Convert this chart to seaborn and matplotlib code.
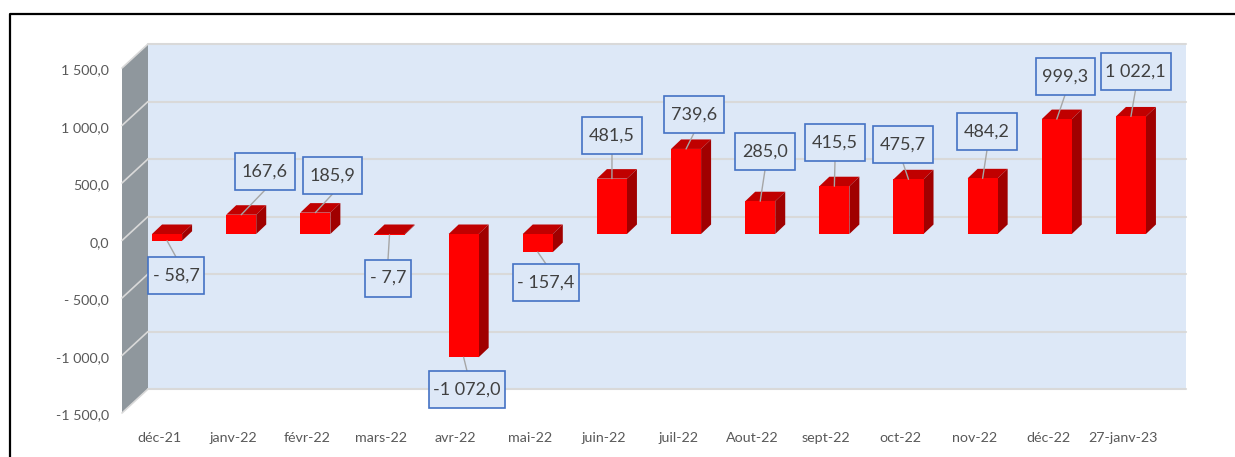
import pandas as pd
import matplotlib
matplotlib.use("Agg")
import matplotlib.pyplot as plt
from matplotlib.lines import Line2D
from matplotlib.patches import Polygon, Rectangle
from matplotlib.transforms import Affine2D
import seaborn as sns

# data
months = ["déc-21", "janv-22", "févr-22", "mars-22", "avr-22", "mai-22", "juin-22",
          "juil-22", "Aout-22", "sept-22", "oct-22", "nov-22", "déc-22", "27-janv-23"]
values = [-58.7, 167.6, 185.9, -7.7, -1072.0, -157.4, 481.5,
          739.6, 285.0, 415.5, 475.7, 484.2, 999.3, 1022.1]
value_labels = ["- 58,7", "167,6", "185,9", "- 7,7", "-1 072,0", "- 157,4", "481,5",
                "739,6", "285,0", "415,5", "475,7", "484,2", "999,3", "1 022,1"]
y_ticks = [-1500, -1000, -500, 0, 500, 1000, 1500]
y_tick_labels = ["-1 500,0", "-1 000,0", "- 500,0", "0,0", "500,0", "1 000,0", "1 500,0"]

# label box layout, image pixels: centre x, centre y, width
boxes = [(176, 275.5, 56), (265, 171.5, 60), (332.5, 175.5, 59), (388, 278, 46),
         (467, 389.5, 76), (546, 282.5, 66), (612, 135.5, 60), (694, 114.5, 60),
         (765, 151.5, 60), (835, 142.5, 60), (903, 144.5, 60), (987, 131.5, 60),
         (1065, 76.5, 59), (1135.5, 71.5, 70)]
box_h = 37

W, H = 1235, 457
sns.set_theme(style="white")
plt.rcParams['font.family'] = ['Lato', 'DejaVu Sans']

fig = plt.figure(figsize=(W / 100, H / 100), dpi=100)
ax = fig.add_axes([122 / W, (H - 413) / H, 1038 / W, 345 / H])

df = pd.DataFrame({"month": months, "value": values})
sns.barplot(data=df, x="month", y="value", order=months, color="#ff0000",
            saturation=1, width=0.405, ax=ax, zorder=3)
ax.set_xlim(-0.5, 13.5)
ax.set_ylim(-1500, 1500)
ax.set_xlabel("")
ax.set_ylabel("")
ax.set_yticks(y_ticks, y_tick_labels)
ax.tick_params(axis="y", length=0, pad=9.5, labelsize=10.3, labelcolor="#595959")
ax.tick_params(axis="x", length=0, pad=13.5, labelsize=10.3, labelcolor="#595959")
for lab in ax.get_yticklabels():
    lab.set_transform(lab.get_transform() + Affine2D().translate(0, -1.5))
sns.despine(ax=ax, left=True, bottom=True)
ax.patch.set_visible(False)

px = Affine2D().scale(1, -1).translate(0, H)  # image pixels to display
back = ax.transData + Affine2D().translate(26, 24)
front = ax.transData + Affine2D().translate(8, 6.5)
depth = (10, 9.5)

# walls and grid
ax.add_patch(Rectangle((-0.5, -1500), 14, 3000, transform=back, facecolor="#dde8f7",
                       edgecolor="none", zorder=0, clip_on=False))
side = [ax.transData.transform((-0.5, v)) for v in (-1500, 1500)]
ax.add_patch(Polygon([side[0], side[1], side[1] + (26, 24), side[0] + (26, 24)],
                     transform=None, facecolor="#8f979d", edgecolor="none",
                     zorder=0.5, clip_on=False))
for v in y_ticks:
    ax.plot([-0.5, 13.5], [v, v], transform=back, color="#d9d9d9", lw=1.5,
            zorder=0.6, clip_on=False)
    p = ax.transData.transform((-0.5, v))
    ax.add_line(Line2D([p[0], p[0] + 26], [p[1], p[1] + 24], transform=None,
                       color="#d9d9d9", lw=1.2, zorder=0.6, clip_on=False))

# 3d faces on top of the seaborn bars
for bar, box, label, v in zip(ax.patches, boxes, value_labels, values):
    bar.set_transform(front)
    bar.set_clip_on(False)
    bar.set_linewidth(0)
    x1, x2 = bar.get_x(), bar.get_x() + bar.get_width()
    top = max(bar.get_y(), bar.get_y() + bar.get_height())
    low = min(bar.get_y(), bar.get_y() + bar.get_height())
    tl = front.transform((x1, top))
    tr = front.transform((x2, top))
    br = front.transform((x2, low))
    ax.add_patch(Polygon([tl, tr, tr + depth, tl + depth], transform=None,
                         facecolor="#c00000", edgecolor="none", zorder=2, clip_on=False))
    ax.add_patch(Polygon([tr, br, br + depth, tr + depth], transform=None,
                         facecolor="#a00000", edgecolor="none", zorder=2, clip_on=False))

    # leader and boxed value
    cx, cy, w = box
    end = front.transform(((x1 + x2) / 2, v))
    start = px.transform((cx, cy + box_h / 2 if v > 0 else cy - box_h / 2))
    ax.add_line(Line2D([start[0], end[0]], [start[1], end[1]], transform=None,
                       color="#a6a6a6", lw=1, zorder=4, clip_on=False))
    ax.add_patch(Rectangle((cx - w / 2, cy - box_h / 2), w, box_h, transform=px,
                           facecolor="#dde8f7", edgecolor="#4472c4", lw=1.2, zorder=5,
                           clip_on=False))
    ax.text(cx, cy, label, transform=px, ha="center", va="center", fontsize=13,
            color="#404040", zorder=6, clip_on=False)

# black frame of the screenshot
fig.add_artist(Line2D([10 / W, 10 / W, 1], [0, (H - 14) / H, (H - 14) / H],
                      color="black", lw=1.6))

fig.savefig("out.png", dpi=100)
